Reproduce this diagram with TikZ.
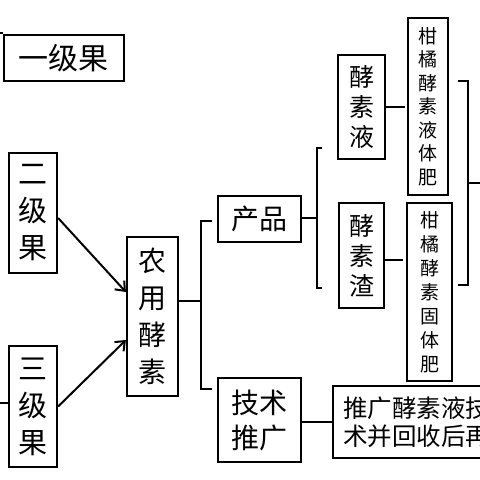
\documentclass[tikz,border=0pt]{standalone}
\usepackage{fontspec}
\setmainfont{Noto Sans CJK SC}
\usetikzlibrary{arrows.meta}
\tikzset{
  box/.style={draw, line width=2.2pt, inner sep=0pt, align=center, text=black},
  conn/.style={line width=2pt},
  arr/.style={line width=2pt, -{Straight Barb[length=8pt,width=13pt,line width=2pt]}},
}
\begin{document}
\begin{tikzpicture}[x=1pt,y=-1pt]
\useasboundingbox (0,0) rectangle (480,480);
\fill[white] (0,0) rectangle (480,480);
\clip (0,0) rectangle (480,480);
% boxes
\node[box, minimum width=120, minimum height=46, font=\fontsize{30}{30}\selectfont] (yi) at (64,58) {一级果};
\node[box, minimum width=48, minimum height=120, font=\fontsize{29}{37}\selectfont] (er) at (33,213) {二\\级\\果};
\node[box, minimum width=48, minimum height=121, font=\fontsize{29}{37}\selectfont] (san) at (33,406.5) {三\\级\\果};
\node[box, minimum width=51, minimum height=159, font=\fontsize{28}{37}\selectfont] (nong) at (152.5,316.5) {农\\用\\酵\\素};
\node[box, minimum width=83, minimum height=46, font=\fontsize{28}{28}\selectfont] (cp) at (259.5,219) {产品};
\node[box, minimum width=83, minimum height=84, font=\fontsize{28}{35}\selectfont] (js) at (259.5,420) {技术\\推广};
\node[box, minimum width=47, minimum height=104, font=\fontsize{25}{30}\selectfont] (jsy) at (361.5,107) {酵\\素\\液};
\node[box, minimum width=45, minimum height=105, font=\fontsize{25}{30}\selectfont] (jsz) at (361.5,255.5) {酵\\素\\渣};
\node[box, minimum width=40, minimum height=177, font=\fontsize{19}{23.5}\selectfont] (gy) at (428,106.5) {柑\\橘\\酵\\素\\液\\体\\肥};
\node[box, minimum width=45, minimum height=178, font=\fontsize{19}{24}\selectfont] (gg) at (429.5,292) {柑\\橘\\酵\\素\\固\\体\\肥};
\node[box, minimum width=227, minimum height=72, text width=207, align=left, font=\fontsize{24.5}{28}\selectfont] (tg) at (446.5,422) {推广酵素液技\\术并回收后再};
% free-end coordinates
\coordinate (ystub) at (0,33);
\coordinate (sstub) at (0,403);
% left stubs
\draw[conn] (ystub) -- ++(3,0);
\draw[conn] (sstub) -- (sstub -| san.west);
% arrows
\draw[arr] ([yshift=-5pt]er.east) -- ([yshift=24.5pt]nong.west);
\draw[arr] (san.east) -- ([yshift=-23.5pt]nong.west);
% bracket from nong
\coordinate (b1) at (201,301);
\draw[conn] (nong.east |- b1) -- (b1);
\draw[conn] (212,221) coordinate (b1t) -- (201,221) -- (201,389) -- (212,389) coordinate (b1b);
% bracket from chanpin
\coordinate (b2) at (317,218);
\draw[conn] (cp.east |- b2) -- (b2);
\draw[conn] (322,148) coordinate (b2t) -- (317,148) -- (317,288) -- (322,288) coordinate (b2b);
% jiaosu to ganju
\coordinate (c1) at (405,107);
\draw[conn] (jsy.east |- c1) -- (c1);
\coordinate (c2) at (403,260);
\draw[conn] (jsz.east |- c2) -- (c2);
% right bracket
\draw[conn] (458,81) coordinate (b3t) -- (468,81) -- (468,285) -- (458,285) coordinate (b3b);
\coordinate (b3m) at (468,183);
\coordinate (rend) at (480,183);
\draw[conn] (b3m) -- (rend);
% jishu to tuiguang
\coordinate (d1) at (301,422);
\draw[conn] (d1) -- (d1 -| tg.west);
\end{tikzpicture}
\end{document}
